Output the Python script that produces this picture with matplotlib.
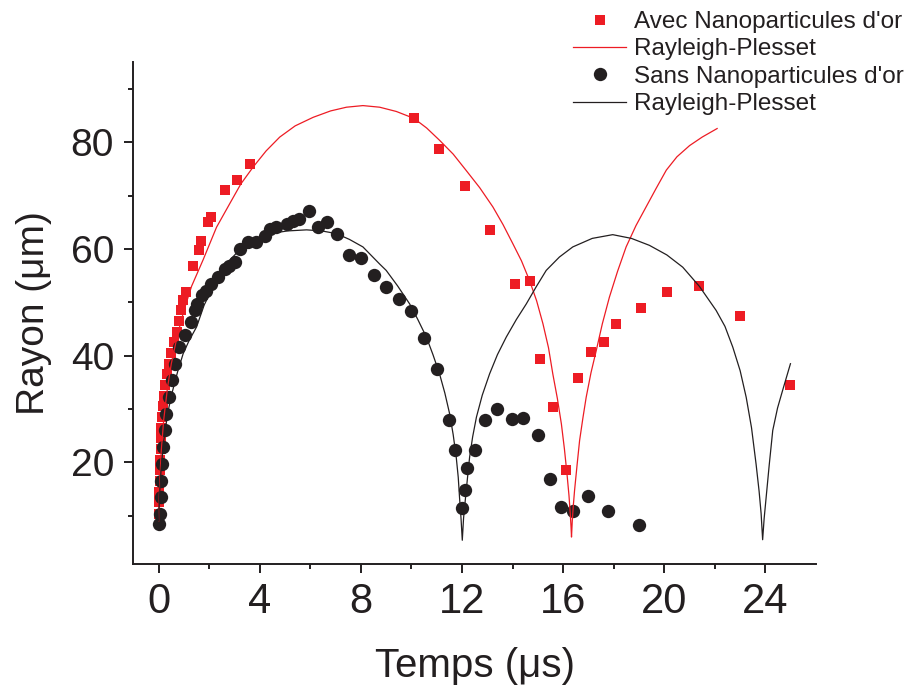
#%%
import numpy as np
import matplotlib
matplotlib.use("Agg")
import matplotlib.pyplot as plt
from matplotlib.ticker import MultipleLocator

plt.rcParams['font.family'] = ['Liberation Sans', 'DejaVu Sans']

#%%
# Mesures - avec nanoparticules d'or (temps en us, rayon en um)
t_avec = [0.02, 0.02, 0.03, 0.04, 0.05, 0.06, 0.08, 0.09, 0.11, 0.15, 0.18, 0.22,
          0.27, 0.32, 0.40, 0.49, 0.59, 0.71, 0.80, 0.88, 0.97, 1.08, 1.37, 1.59,
          1.69, 1.97, 2.06, 2.64, 3.08, 3.63, 10.1, 11.09, 12.11, 13.10, 14.09,
          14.70, 15.09, 15.59, 16.11, 16.60, 17.10, 17.60, 18.08, 19.09, 20.1,
          21.39, 23.0, 24.99]
r_avec = [10.4, 12.5, 14.5, 16.5, 18.5, 20.5, 22.5, 24.5, 26.5, 28.5, 30.5, 32.5,
          34.5, 36.5, 38.5, 40.5, 42.5, 44.5, 46.5, 48.5, 50.4, 52.0, 56.8, 59.9,
          61.6, 65.0, 66.0, 71.0, 73.0, 75.9, 84.5, 78.8, 71.8, 63.6, 53.5,
          54.0, 39.4, 30.3, 18.6, 35.9, 40.7, 42.5, 46.0, 49.0, 52.0,
          53.0, 47.4, 34.5]

# Mesures - sans nanoparticules d'or
t_sans = [0.02, 0.05, 0.075, 0.11, 0.15, 0.18, 0.245, 0.31, 0.40, 0.51, 0.64, 0.81,
          1.04, 1.27, 1.43, 1.50, 1.70, 1.89, 2.09, 2.35, 2.62, 2.79, 3.01, 3.21,
          3.54, 3.87, 4.20, 4.40, 4.66, 5.06, 5.32, 5.55, 5.94, 6.32, 6.67, 7.04,
          7.54, 7.99, 8.51, 9.01, 9.51, 10.0, 10.49, 11.0, 11.5, 11.71, 12.0, 12.1,
          12.2, 12.5, 12.89, 13.4, 13.97, 14.4, 15.0, 15.49, 15.9, 16.4, 16.99,
          17.78, 19.0]
r_sans = [8.4, 10.4, 13.5, 16.6, 19.7, 22.9, 26.0, 29.1, 32.2, 35.4, 38.5, 41.6,
          43.8, 46.3, 48.5, 49.7, 51.3, 52.2, 53.5, 54.7, 56.3, 56.9, 57.5, 60.1,
          61.3, 61.3, 62.5, 63.8, 64.1, 64.7, 65.2, 65.7, 67.2, 64.2, 65.0, 62.9,
          58.8, 58.4, 55.2, 52.8, 50.7, 48.3, 43.4, 37.5, 28.0, 22.3, 11.5, 14.8,
          19.0, 22.4, 28.0, 30.1, 28.1, 28.4, 25.2, 16.8, 11.7, 10.8, 13.7,
          10.9, 8.2]

# Courbes Rayleigh-Plesset
t_rp_avec = [0.0, 0.02, 0.05, 0.1, 0.2, 0.35, 0.5, 0.75, 1.0, 1.3, 1.76, 2.29, 2.81,
             3.25, 3.74, 4.25, 4.79, 5.4, 6.11, 6.8, 7.43, 8.08, 8.74, 9.4, 10.1,
             10.6, 11.11, 11.65, 12.17, 12.7, 13.22, 13.62, 14.01, 14.35, 14.67,
             14.95, 15.2, 15.42, 15.59, 15.77, 15.93, 16.05, 16.15, 16.23, 16.28,
             16.31, 16.33, 16.36, 16.4, 16.45, 16.55, 16.65, 16.78, 16.91, 17.1,
             17.31, 17.55, 17.83, 18.15, 18.49, 18.88, 19.28, 19.68, 20.08, 20.5,
             21.0, 21.5, 22.09]
r_rp_avec = [9.0, 13.0, 17.0, 22.0, 28.0, 34.0, 38.5, 44.0, 48.5, 53.0, 58.0, 64.1, 68.5,
             72.2, 75.4, 78.4, 81.0, 83.1, 84.7, 85.9, 86.6, 86.9, 86.6, 85.8, 84.5,
             82.7, 80.4, 77.8, 74.7, 71.5, 67.9, 64.6, 61.0, 57.8, 54.1,
             50.3, 46.0, 41.5, 36.6, 32.0, 27.2, 22.5, 17.9, 13.8, 10.4,
             8.0, 6.0, 9.0, 11.8, 14.7, 19.5, 24.1, 28.3, 32.2, 36.8,
             41.0, 46.0, 51.0, 55.8, 60.4, 64.4, 67.9, 71.4, 74.8, 77.3,
             79.4, 81.0, 82.6]

t_rp_sans = [0.0, 0.02, 0.05, 0.1, 0.2, 0.35, 0.5, 0.75, 0.97, 1.2, 1.5, 1.8, 2.15,
             2.5, 2.81, 3.15, 3.47, 3.9, 4.4, 5.1, 5.85, 6.45, 7.03, 7.55, 8.08,
             8.74, 9.0, 9.45, 9.93, 10.25, 10.59, 10.85, 11.11, 11.32, 11.51, 11.65,
             11.77, 11.85, 11.9, 11.96, 12.01, 12.06, 12.14, 12.22, 12.3, 12.42,
             12.57, 12.8, 13.09, 13.4, 13.75, 14.15, 14.54, 14.93, 15.33, 15.85,
             16.38, 17.15, 17.96, 18.7, 19.41, 20.1, 20.73, 21.39, 22.05, 22.4,
             22.71, 23.0, 23.24, 23.45, 23.63, 23.75, 23.83, 23.89, 23.95, 24.03,
             24.15, 24.29, 24.48, 24.68, 24.99]
r_rp_sans = [9.0, 12.0, 15.0, 19.0, 24.0, 29.0, 32.5, 37.0, 40.4, 42.8, 45.4, 49.5, 52.9,
             55.6, 57.9, 59.6, 61.0, 62.1, 62.9, 63.4, 63.6, 63.4, 62.9, 61.8, 60.4,
             57.2, 56.0, 53.1, 49.7, 46.8, 43.5, 40.2, 36.6, 33.0, 29.1, 25.2,
             21.0, 17.2, 13.5, 9.5, 5.4, 9.5, 13.5, 17.3, 21.0, 24.8,
             28.5, 32.6, 36.6, 40.2, 43.5, 46.8, 49.7, 52.9, 56.0, 58.5,
             60.4, 62.0, 62.7, 62.0, 60.7, 58.9, 56.6, 53.0, 48.5, 45.5,
             41.6, 37.2, 32.2, 26.5, 19.7, 14.6, 10.4, 5.5, 9.5, 13.5,
             19.5, 26.0, 30.2, 33.5, 38.5]

#%%
rouge = '#ED1C24'
noir = '#231F20'

fig = plt.figure(figsize=(9.11, 6.91), dpi=100)
ax = fig.add_axes([0.1464, 0.1842, 0.7493, 0.7255])

ax.plot(t_avec, r_avec, 's', color=rouge, ms=7.7, mew=0, zorder=2,
        label="Avec Nanoparticules d'or")
ax.plot(t_rp_avec, r_rp_avec, '-', color=rouge, lw=0.9, zorder=3,
        label='Rayleigh-Plesset')
ax.plot(t_sans, r_sans, 'o', color=noir, ms=9.6, mew=0, zorder=2.1,
        label="Sans Nanoparticules d'or")
ax.plot(t_rp_sans, r_rp_sans, '-', color=noir, lw=0.9, zorder=3,
        label='Rayleigh-Plesset')

ax.set_xlim(-1, 26)
ax.set_ylim(1, 95)
ax.set_xticks(np.arange(0, 25, 4))
ax.set_xticks(np.arange(2, 24, 4), minor=True)
ax.yaxis.set_major_locator(MultipleLocator(20))
ax.set_yticks(np.arange(10, 100, 20), minor=True)

for s in ['top', 'right']:
    ax.spines[s].set_visible(False)
for s in ['left', 'bottom']:
    ax.spines[s].set_linewidth(1.4)
    ax.spines[s].set_color(noir)

ax.tick_params(which='major', direction='out', length=6.5, width=1.4, colors=noir)
ax.tick_params(which='minor', direction='out', length=3.8, width=1.4, colors=noir)
ax.tick_params(axis='y', labelsize=28, pad=7.5)
ax.tick_params(axis='x', labelsize=30, pad=6.5)

ax.set_xlabel('Temps (\u03bcs)', fontsize=29, color=noir, labelpad=18)
ax.set_ylabel('Rayon (\u03bcm)', fontsize=28, color=noir, labelpad=13)

leg = ax.legend(loc='upper left', bbox_to_anchor=(0.629, 0.984),
                bbox_transform=fig.transFigure, frameon=False, fontsize=17.5,
                handlelength=2.2, handletextpad=0.3, labelspacing=0.22,
                borderpad=0, borderaxespad=0)
for txt in leg.get_texts():
    txt.set_color(noir)

fig.savefig('out.png', dpi=100)
